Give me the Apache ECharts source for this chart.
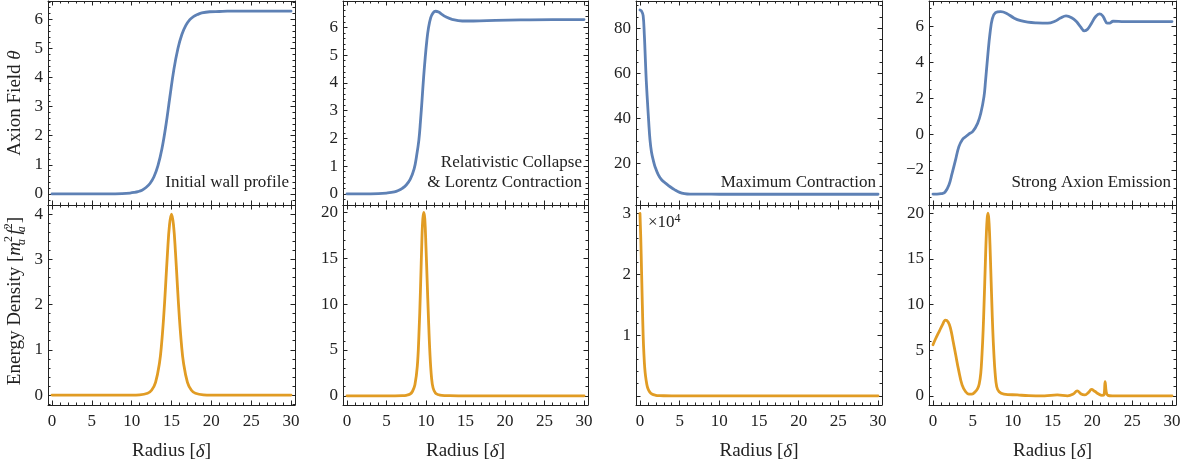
<!DOCTYPE html>
<html>
<head>
<meta charset="utf-8">
<script src="https://cdn.jsdelivr.net/npm/echarts@6/dist/echarts.min.js"></script>
<style>
  html, body { margin: 0; padding: 0; background: #ffffff; }
  #chart { width: 1190px; height: 467px; }
</style>
</head>
<body>
<div id="chart"></div>
<script>
// Axion wall collapse: field profile θ(r) (top row) and energy density (bottom row)
// at four stages of the evolution. Each entry is [radius, value].

const thetaInitial = [
  [0, 0], [2, 0], [4, 0], [6, 0], [7.8, 0.004], [8.8, 0.011], [9.8, 0.03], [10.3, 0.05],
  [10.8, 0.08], [11.3, 0.13], [11.8, 0.22], [12.3, 0.36], [12.8, 0.59], [13.3, 0.97],
  [13.8, 1.55], [14.3, 2.36], [14.8, 3.34], [15.3, 4.28], [15.8, 4.99], [16.3, 5.48],
  [16.8, 5.79], [17.3, 5.99], [17.8, 6.1], [18.3, 6.17], [18.8, 6.22], [19.8, 6.26],
  [21, 6.27], [22, 6.28], [26, 6.28], [30, 6.28]
];
const rhoInitial = [
  [0, 0], [5, 0], [10, 0], [11, 0.005], [12, 0.04], [12.5, 0.106], [13, 0.28], [13.5, 0.72],
  [13.75, 1.12], [14, 1.68], [14.25, 2.39], [14.5, 3.15], [14.75, 3.76], [15, 4],
  [15.25, 3.76], [15.5, 3.15], [15.75, 2.39], [16, 1.68], [16.25, 1.12], [16.5, 0.72],
  [17, 0.28], [17.5, 0.106], [18, 0.04], [19, 0.005], [20, 0], [25, 0], [30, 0]
];

const thetaCollapse = [
  [0, 0], [2, 0], [4, 0.01], [5, 0.03], [6, 0.07], [6.5, 0.12], [7, 0.2], [7.5, 0.32],
  [8, 0.52], [8.5, 0.9], [8.8, 1.35], [9.1, 1.94], [9.3, 2.6], [9.5, 3.38], [9.7, 4.2],
  [9.9, 4.9], [10.1, 5.5], [10.3, 5.95], [10.6, 6.35], [10.9, 6.52], [11.2, 6.58],
  [11.6, 6.55], [12, 6.47], [12.5, 6.38], [13.3, 6.29], [14.6, 6.23], [16, 6.23],
  [18.8, 6.25], [22, 6.27], [26, 6.28], [30, 6.28]
];
const rhoCollapse = [
  [0, 0], [5, 0], [7, 0.02], [7.5, 0.06], [8, 0.2], [8.3, 0.5], [8.6, 1.2], [8.9, 3.2],
  [9.1, 6.5], [9.3, 11.5], [9.5, 17.5], [9.6, 19.3], [9.72, 20], [9.85, 19.3], [10, 16.2],
  [10.15, 12.5], [10.3, 8.8], [10.5, 4.6], [10.7, 2.0], [10.9, 0.85], [11.2, 0.3],
  [11.6, 0.12], [12, 0.05], [13, 0.02], [15, 0], [20, 0], [25, 0], [30, 0]
];

const thetaMaxContraction = [
  [0, 88], [0.2, 87.5], [0.4, 85.5], [0.55, 77], [0.63, 70.5], [0.75, 60], [0.85, 53],
  [0.95, 47], [1.1, 38.5], [1.26, 30.5], [1.45, 25], [1.7, 21], [1.9, 18.5], [2.3, 15],
  [2.75, 12.6], [3.3, 11], [3.8, 9.6], [4.4, 8.2], [5.0, 7.1], [5.6, 6.55], [6.3, 6.32],
  [8, 6.29], [10, 6.28], [15, 6.28], [20, 6.28], [25, 6.28], [30, 6.28]
];
// in units of 10^4
const rhoMaxContraction = [
  [0, 3.0], [0.1, 2.6], [0.2, 2.05], [0.3, 1.5], [0.4, 1.0], [0.5, 0.68], [0.6, 0.46],
  [0.7, 0.33], [0.85, 0.2], [1.0, 0.12], [1.2, 0.07], [1.5, 0.03], [2, 0.01], [2.5, 0.004],
  [3, 0.002], [5, 0], [10, 0], [20, 0], [30, 0]
];

const thetaEmission = [
  [0, -3.35], [0.5, -3.35], [1.0, -3.33], [1.5, -3.25], [2.0, -2.85], [2.4, -2.19],
  [2.8, -1.5], [3.25, -0.7], [3.7, -0.3], [4.1, -0.15], [4.5, 0.0], [5.0, 0.15], [5.6, 0.6],
  [6.0, 1.16], [6.4, 2.09], [6.6, 3.0], [6.9, 4.5], [7.15, 5.6], [7.45, 6.45], [7.85, 6.78],
  [8.5, 6.84], [9.2, 6.75], [10.2, 6.47], [11.0, 6.33], [11.9, 6.25], [13.0, 6.21],
  [14.4, 6.19], [15.3, 6.3], [16.0, 6.48], [16.7, 6.6], [17.4, 6.5], [18.0, 6.28],
  [18.5, 6.0], [19.0, 5.76], [19.4, 5.85], [19.9, 6.19], [20.4, 6.55], [20.9, 6.71],
  [21.3, 6.6], [21.6, 6.35], [21.85, 6.19], [22.2, 6.2], [22.6, 6.3], [24, 6.28],
  [27, 6.28], [30, 6.28]
];
const rhoEmission = [
  [0, 5.6], [0.3, 6.2], [0.8, 7.1], [1.2, 7.8], [1.55, 8.3], [1.9, 8.1], [2.2, 7.4],
  [2.5, 6.1], [2.85, 4.5], [3.2, 2.9], [3.65, 1.2], [4.1, 0.45], [4.5, 0.2], [4.9, 0.2],
  [5.3, 0.45], [5.6, 0.8], [5.8, 1.3], [6.0, 2.5], [6.15, 4.5], [6.3, 7.3], [6.4, 9.8],
  [6.5, 12.5], [6.6, 15.3], [6.7, 17.8], [6.8, 19.4], [6.9, 20], [7.0, 19.4], [7.1, 17.8],
  [7.2, 15.3], [7.3, 12.5], [7.4, 9.8], [7.5, 7.3], [7.65, 4.5], [7.8, 2.5], [8.0, 1.0],
  [8.3, 0.45], [8.9, 0.2], [10.6, 0.1], [12, 0.02], [14, 0], [15.6, 0.1], [16.9, 0],
  [17.6, 0.2], [18.1, 0.55], [18.6, 0.2], [19.0, 0.1], [19.5, 0.35], [19.9, 0.7],
  [20.3, 0.5], [20.8, 0.2], [21.2, 0.05], [21.45, 0.1], [21.6, 1.56], [21.75, 0.4],
  [21.95, 0.05], [22.5, 0], [25, 0], [30, 0]
];

const stageTitles = [
  'Initial wall profile',
  'Relativistic Collapse\n& Lorentz Contraction',
  'Maximum Contraction',
  'Strong Axion Emission'
];
const radiusRange = [-0.5, 30.5];
const radiusStep = 5;
const radiusMinorStep = 1;

// ---- styling / layout ----
const BLUE = '#5E81B5';
const ORANGE = '#E19C24';
const INK = '#222222';
const FONT = 'Liberation Serif';
const TICK_FONT = 17;
const NOTE_FONT = 17;
const TITLE_FONT = 19;

const colLeft = [48, 343, 636, 929];
const colWidth = [247, 245, 246, 247];
const rowTop = [1, 205];
const rowHeight = [204, 200];

const panels = [
  { col: 0, row: 0, data: thetaInitial, color: BLUE, range: [-0.38, 6.63], step: 1, minor: 0.2 },
  { col: 0, row: 1, data: rhoInitial, color: ORANGE, range: [-0.22, 4.2], step: 1, minor: 0.2 },
  { col: 1, row: 0, data: thetaCollapse, color: BLUE, range: [-0.4, 6.95], step: 1, minor: 0.2 },
  { col: 1, row: 1, data: rhoCollapse, color: ORANGE, range: [-1, 20.8], step: 5, minor: 1 },
  { col: 2, row: 0, data: thetaMaxContraction, color: BLUE, range: [1.5, 92], step: 20, minor: 5 },
  { col: 2, row: 1, data: rhoMaxContraction, color: ORANGE, range: [-0.15, 3.14], step: 1, minor: 0.2, hideZero: true },
  { col: 3, row: 0, data: thetaEmission, color: BLUE, range: [-3.96, 7.43], step: 2, minor: 0.5 },
  { col: 3, row: 1, data: rhoEmission, color: ORANGE, range: [-1, 20.9], step: 5, minor: 1 }
];

function fmtNumber(v) {
  return v < 0 ? '\u2212' + Math.abs(v) : String(v);
}

// One framed side of a panel: either the labelled major ticks or the short minor ticks.
function sideAxis(gridIndex, position, min, max, step, major, labelOpt) {
  return {
    type: 'value',
    gridIndex: gridIndex,
    position: position,
    min: min,
    max: max,
    splitNumber: 5,
    minInterval: step,
    maxInterval: step,
    silent: true,
    axisLine: { show: major, onZero: false, lineStyle: { color: INK, width: 1 } },
    axisTick: { show: true, inside: true, length: major ? 4.5 : 2.5, lineStyle: { color: INK, width: 1 } },
    axisLabel: labelOpt || { show: false },
    splitLine: { show: false },
    minorTick: { show: false },
    minorSplitLine: { show: false }
  };
}

const grids = [];
const xAxes = [];
const yAxes = [];
const series = [];

panels.forEach(function (p, i) {
  grids.push({
    left: colLeft[p.col], top: rowTop[p.row],
    width: colWidth[p.col], height: rowHeight[p.row],
    outerBoundsMode: 'none', containLabel: false
  });

  const xLabel = p.row === 1 ? {
    show: true, margin: 8, color: INK, fontFamily: FONT, fontSize: TICK_FONT,
    showMinLabel: false, showMaxLabel: false, formatter: fmtNumber
  } : null;
  const xMajor = sideAxis(i, 'bottom', radiusRange[0], radiusRange[1], radiusStep, true, xLabel);
  if (p.row === 1) {
    xMajor.name = 'Radius [{i|\u03b4}]';
    xMajor.nameLocation = 'middle';
    xMajor.nameGap = 37;
    xMajor.nameTextStyle = {
      color: INK, fontFamily: FONT, fontSize: TITLE_FONT,
      rich: { i: { color: INK, fontFamily: FONT, fontSize: TITLE_FONT, fontStyle: 'italic' } }
    };
  }
  xAxes.push(xMajor);
  xAxes.push(sideAxis(i, 'bottom', radiusRange[0], radiusRange[1], radiusMinorStep, false));
  xAxes.push(sideAxis(i, 'top', radiusRange[0], radiusRange[1], radiusStep, true));
  xAxes.push(sideAxis(i, 'top', radiusRange[0], radiusRange[1], radiusMinorStep, false));

  const yLabel = {
    show: true, margin: 5, color: INK, fontFamily: FONT, fontSize: TICK_FONT,
    showMinLabel: false, showMaxLabel: false,
    formatter: p.hideZero ? function (v) { return v === 0 ? '' : fmtNumber(v); } : fmtNumber
  };
  yAxes.push(sideAxis(i, 'left', p.range[0], p.range[1], p.step, true, yLabel));
  yAxes.push(sideAxis(i, 'left', p.range[0], p.range[1], p.minor, false));
  yAxes.push(sideAxis(i, 'right', p.range[0], p.range[1], p.step, true));
  yAxes.push(sideAxis(i, 'right', p.range[0], p.range[1], p.minor, false));

  series.push({
    type: 'line',
    xAxisIndex: 4 * i,
    yAxisIndex: 4 * i,
    data: p.data,
    showSymbol: false,
    smooth: 0.4,
    clip: true,
    silent: true,
    z: 3,
    lineStyle: { color: p.color, width: 2.8, cap: 'round', join: 'round' },
    itemStyle: { color: p.color }
  });
});

const textBase = { fill: INK, fontFamily: FONT };

const graphics = [
  // stage captions, right aligned inside the upper panels
  { type: 'text', x: 289, y: 183, silent: true,
    style: Object.assign({ text: stageTitles[0], fontSize: NOTE_FONT, align: 'right', verticalAlign: 'middle' }, textBase) },
  { type: 'text', x: 582, y: 173, silent: true,
    style: Object.assign({ text: stageTitles[1], fontSize: NOTE_FONT, lineHeight: 20, align: 'right', verticalAlign: 'middle' }, textBase) },
  { type: 'text', x: 876, y: 183, silent: true,
    style: Object.assign({ text: stageTitles[2], fontSize: NOTE_FONT, align: 'right', verticalAlign: 'middle' }, textBase) },
  { type: 'text', x: 1171, y: 183, silent: true,
    style: Object.assign({ text: stageTitles[3], fontSize: NOTE_FONT, align: 'right', verticalAlign: 'middle' }, textBase) },
  // scale factor of the maximum-contraction energy density
  { type: 'text', x: 648, y: 223, silent: true,
    style: Object.assign({
      text: '\u00d710{sp|4}', fontSize: NOTE_FONT, lineHeight: 21, align: 'left', verticalAlign: 'middle',
      rich: { sp: { fill: INK, fontFamily: FONT, fontSize: 12, lineHeight: 12, verticalAlign: 'top' } }
    }, textBase) },
  // row titles
  { type: 'text', x: 15, y: 103, rotation: Math.PI / 2, silent: true,
    style: Object.assign({
      text: 'Axion Field {i|\u03b8}', fontSize: TITLE_FONT, align: 'center', verticalAlign: 'middle',
      rich: { i: { fill: INK, fontFamily: FONT, fontSize: TITLE_FONT, fontStyle: 'italic' } }
    }, textBase) },
  { type: 'text', x: 15, y: 301, rotation: Math.PI / 2, silent: true,
    style: Object.assign({
      text: 'Energy Density [{i|m}{sb|a}{sp|2}{th| }{i|f}{sb|a}{sp|2}]',
      fontSize: TITLE_FONT, lineHeight: 25, align: 'center', verticalAlign: 'middle',
      rich: {
        i: { fill: INK, fontFamily: FONT, fontSize: TITLE_FONT, lineHeight: 25, fontStyle: 'italic' },
        sb: { fill: INK, fontFamily: FONT, fontSize: 12, lineHeight: 12, fontStyle: 'italic', verticalAlign: 'bottom', width: 0 },
        sp: { fill: INK, fontFamily: FONT, fontSize: 12, lineHeight: 12, verticalAlign: 'top' },
        th: { fill: INK, fontFamily: FONT, fontSize: 6 }
      }
    }, textBase) }
];

const chart = echarts.init(document.getElementById('chart'), null, { renderer: 'canvas' });
chart.setOption({
  animation: false,
  backgroundColor: '#ffffff',
  textStyle: { fontFamily: FONT },
  grid: grids,
  xAxis: xAxes,
  yAxis: yAxes,
  series: series,
  graphic: graphics
});
</script>
</body>
</html>
